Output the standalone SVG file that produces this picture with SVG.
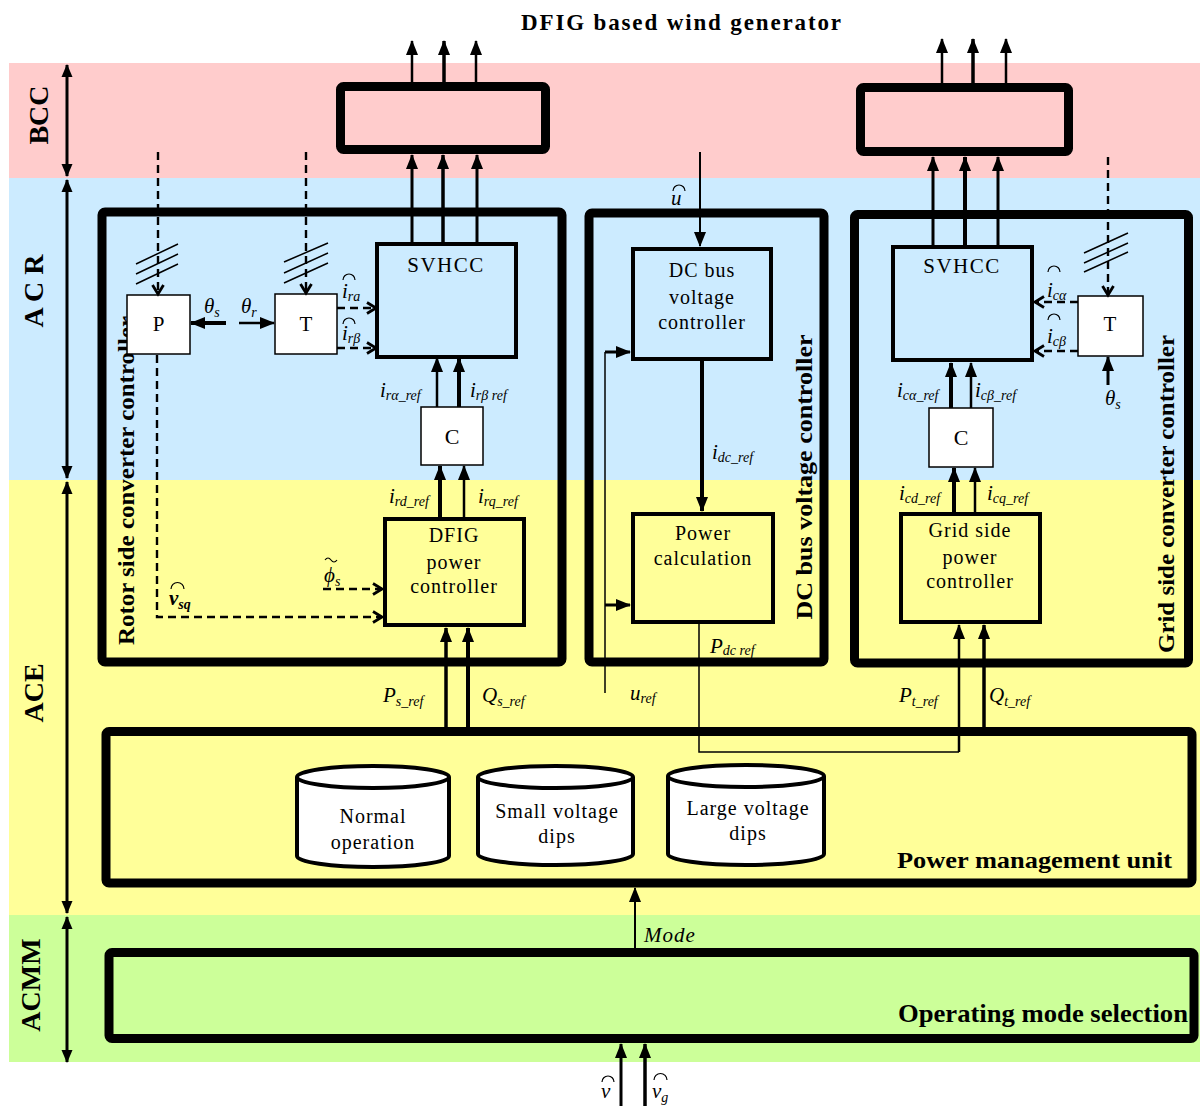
<svg xmlns="http://www.w3.org/2000/svg" width="1200" height="1106" viewBox="0 0 1200 1106">
<style>
.thick{fill:none;stroke:#000;stroke-width:9;stroke-linejoin:round}
.blk{fill:none;stroke:#000;stroke-width:4}
.wbox{fill:#fff;stroke:#000;stroke-width:1.5}
.ln{fill:none;stroke:#000}
.dash{fill:none;stroke:#000;stroke-width:2.4;stroke-dasharray:8 5}
.arc{fill:none;stroke:#000;stroke-width:1.2}
text{font-family:"Liberation Serif","Times New Roman",serif;fill:#000}
.c{text-anchor:middle}
.box{font-size:20px;letter-spacing:1px}
.it{font-style:italic;font-size:21px}
.sub{font-size:14px}
.b{font-weight:bold}
.cyl{fill:#fff;stroke:#000;stroke-width:4;stroke-linejoin:round}
</style>
<defs>
<marker id="ah" markerUnits="userSpaceOnUse" markerWidth="16" markerHeight="14" refX="14" refY="7" orient="auto-start-reverse" viewBox="0 0 16 14"><path d="M0,1 L15,7 L0,13 z" fill="#000"/></marker>
<marker id="ahs" markerUnits="userSpaceOnUse" markerWidth="14" markerHeight="12" refX="12" refY="6" orient="auto-start-reverse" viewBox="0 0 14 12"><path d="M0,0.5 L13,6 L0,11.5 z" fill="#000"/></marker>
<marker id="chev" markerUnits="userSpaceOnUse" markerWidth="14" markerHeight="14" refX="11" refY="7" orient="auto" viewBox="0 0 14 14"><path d="M2,1.5 L11,7 L2,12.5" fill="none" stroke="#000" stroke-width="2.8"/></marker>
</defs>

<g id="bands">
<rect x="9" y="63" width="1191" height="115" fill="#FFCCCC"/>
<rect x="9" y="178" width="1191" height="302" fill="#CCEBFF"/>
<rect x="9" y="480" width="1191" height="435" fill="#FFFF99"/>
<rect x="9" y="915" width="1191" height="147" fill="#CCFF99"/>
</g>

<text x="521" y="30" class="b" font-size="23" textLength="320" lengthAdjust="spacing">DFIG based wind generator</text>

<g id="layer-labels">
<text transform="translate(48,115) rotate(-90)" class="b c" font-size="28">BCC</text>
<text transform="translate(43,291) rotate(-90)" class="b c" font-size="28">A C R</text>
<text transform="translate(43,693) rotate(-90)" class="b c" font-size="28">ACE</text>
<text transform="translate(40,985) rotate(-90)" class="b c" font-size="28">ACMM</text>
</g>

<g id="bcc-left"><rect x="340.5" y="86.5" width="205" height="63" rx="3" class="thick"/></g>
<g id="bcc-right"><rect x="860.5" y="87.5" width="208" height="64" rx="3" class="thick"/></g>

<g id="rotor-side-controller">
<rect x="102" y="212" width="460" height="450" rx="3" class="thick"/>
<text transform="translate(134,480.5) rotate(-90)" class="b c" font-size="24" textLength="329" lengthAdjust="spacingAndGlyphs">Rotor side converter controller</text>
</g>
<g id="rotor-P"><rect x="127" y="295" width="63" height="59" class="wbox"/><text x="158.5" y="331" class="c" font-size="21">P</text></g>
<g id="rotor-T"><rect x="275" y="294" width="62" height="60" class="wbox"/><text x="306" y="331" class="c" font-size="21">T</text></g>
<g id="rotor-SVHCC"><rect x="377" y="244" width="139" height="113" class="blk"/><text x="446" y="272" class="c" font-size="21" letter-spacing="1.5">SVHCC</text></g>
<g id="rotor-C"><rect x="421" y="407" width="62" height="58" class="wbox"/><text x="452" y="444" class="c" font-size="22">C</text></g>
<g id="dfig-power-controller"><rect x="385" y="519" width="139" height="106" class="blk"/>
<text x="454" y="542" class="c box">DFIG</text><text x="454" y="569" class="c box">power</text><text x="454" y="593" class="c box">controller</text></g>

<g id="dc-bus-controller">
<rect x="589" y="213" width="235" height="449" rx="3" class="thick"/>
<text transform="translate(812,477) rotate(-90)" class="b c" font-size="24" textLength="285" lengthAdjust="spacingAndGlyphs">DC bus voltage  controller</text>
</g>
<g id="dc-bus-voltage-controller"><rect x="633" y="249" width="138" height="110" class="blk"/>
<text x="702" y="277" class="c box">DC bus</text><text x="702" y="304" class="c box">voltage</text><text x="702" y="329" class="c box">controller</text></g>
<g id="power-calculation"><rect x="633" y="514" width="140" height="108" class="blk"/>
<text x="703" y="540" class="c box">Power</text><text x="703" y="565" class="c box">calculation</text></g>

<g id="grid-side-controller">
<rect x="854.5" y="214.5" width="334" height="448.5" rx="3" class="thick"/>
<text transform="translate(1174,494) rotate(-90)" class="b c" font-size="24" textLength="318" lengthAdjust="spacingAndGlyphs">Grid side converter controller</text>
</g>
<g id="grid-SVHCC"><rect x="893" y="247" width="139" height="113" class="blk"/><text x="962" y="273" class="c" font-size="21" letter-spacing="1.5">SVHCC</text></g>
<g id="grid-T"><rect x="1078" y="296" width="65" height="60" class="wbox"/><text x="1110" y="331" class="c" font-size="21">T</text></g>
<g id="grid-C"><rect x="929" y="408" width="64" height="59" class="wbox"/><text x="961" y="445" class="c" font-size="22">C</text></g>
<g id="grid-power-controller"><rect x="901" y="514" width="139" height="108" class="blk"/>
<text x="970" y="537" class="c box">Grid side</text><text x="970" y="564" class="c box">power</text><text x="970" y="588" class="c box">controller</text></g>

<g id="power-management-unit">
<rect x="106" y="731.5" width="1086" height="151.5" rx="3" class="thick"/>
<text x="897" y="868" class="b" font-size="24" textLength="275" lengthAdjust="spacingAndGlyphs">Power management unit</text>
</g>
<g id="normal-operation">
<path class="cyl" d="M297,777 A76,11 0 0 1 449,777 L449,856 A76,11 0 0 1 297,856 Z"/>
<path class="cyl" fill="none" d="M297,777 A76,11 0 0 0 449,777"/>
<text x="373" y="823" class="c box">Normal</text><text x="373" y="849" class="c box">operation</text>
</g>
<g id="small-voltage-dips">
<path class="cyl" d="M478,777 A77.5,11 0 0 1 633,777 L633,854 A77.5,11 0 0 1 478,854 Z"/>
<path class="cyl" fill="none" d="M478,777 A77.5,11 0 0 0 633,777"/>
<text x="557" y="818" class="c box">Small voltage</text><text x="557" y="843" class="c box">dips</text>
</g>
<g id="large-voltage-dips">
<path class="cyl" d="M668,776 A78,11 0 0 1 824,776 L824,854 A78,11 0 0 1 668,854 Z"/>
<path class="cyl" fill="none" d="M668,776 A78,11 0 0 0 824,776"/>
<text x="748" y="815" class="c box">Large voltage</text><text x="748" y="840" class="c box">dips</text>
</g>

<g id="operating-mode-selection">
<rect x="109" y="952.5" width="1085" height="86" rx="3" class="thick"/>
<text x="898" y="1022" class="b" font-size="25" textLength="290" lengthAdjust="spacingAndGlyphs">Operating mode selection</text>
</g>

<g id="connectors">
<line x1="67" y1="65" x2="67" y2="176" class="ln" stroke-width="3" marker-start="url(#ahs)" marker-end="url(#ahs)"/>
<line x1="67" y1="180" x2="67" y2="478" class="ln" stroke-width="3" marker-start="url(#ahs)" marker-end="url(#ahs)"/>
<line x1="67" y1="482" x2="67" y2="913" class="ln" stroke-width="3" marker-start="url(#ahs)" marker-end="url(#ahs)"/>
<line x1="67" y1="917" x2="67" y2="1062" class="ln" stroke-width="3" marker-start="url(#ahs)" marker-end="url(#ahs)"/>

<line x1="412" y1="83" x2="412" y2="41" class="ln" stroke-width="2.5" marker-end="url(#ah)"/>
<line x1="444" y1="83" x2="444" y2="41" class="ln" stroke-width="3.5" marker-end="url(#ah)"/>
<line x1="476" y1="83" x2="476" y2="41" class="ln" stroke-width="2.5" marker-end="url(#ah)"/>
<line x1="942" y1="84" x2="942" y2="39" class="ln" stroke-width="2.5" marker-end="url(#ah)"/>
<line x1="973" y1="84" x2="973" y2="39" class="ln" stroke-width="3.5" marker-end="url(#ah)"/>
<line x1="1006" y1="84" x2="1006" y2="39" class="ln" stroke-width="2.5" marker-end="url(#ah)"/>

<line x1="412" y1="242" x2="412" y2="155" class="ln" stroke-width="3" marker-end="url(#ah)"/>
<line x1="443" y1="242" x2="443" y2="155" class="ln" stroke-width="3.5" marker-end="url(#ah)"/>
<line x1="477" y1="242" x2="477" y2="155" class="ln" stroke-width="3" marker-end="url(#ah)"/>
<line x1="933" y1="245" x2="933" y2="157" class="ln" stroke-width="3" marker-end="url(#ah)"/>
<line x1="965" y1="245" x2="965" y2="157" class="ln" stroke-width="4" marker-end="url(#ah)"/>
<line x1="998" y1="245" x2="998" y2="157" class="ln" stroke-width="3" marker-end="url(#ah)"/>

<line x1="158" y1="152" x2="158" y2="294" class="dash" marker-end="url(#chev)"/>
<line x1="306" y1="152" x2="306" y2="293" class="dash" marker-end="url(#chev)"/>
<path d="M136,264 L178,244 M136,274 L178,254 M136,284 L178,264" class="ln" stroke-width="1.5"/>
<path d="M284,262 L328,243 M284,273 L328,253 M284,283 L328,263" class="ln" stroke-width="1.5"/>
<line x1="226" y1="323" x2="191" y2="323" class="ln" stroke-width="4" marker-end="url(#ah)"/>
<line x1="239" y1="323" x2="274" y2="323" class="ln" stroke-width="2.5" marker-end="url(#ah)"/>
<line x1="337" y1="308" x2="376" y2="308" class="dash" stroke-width="2.8" marker-end="url(#chev)"/>
<line x1="337" y1="348" x2="376" y2="348" class="dash" stroke-width="2.8" marker-end="url(#chev)"/>
<line x1="437" y1="407" x2="437" y2="358" class="ln" stroke-width="2.5" marker-end="url(#ah)"/>
<line x1="459" y1="407" x2="459" y2="358" class="ln" stroke-width="4" marker-end="url(#ah)"/>
<line x1="440" y1="517" x2="440" y2="466" class="ln" stroke-width="4" marker-end="url(#ah)"/>
<line x1="464" y1="517" x2="464" y2="466" class="ln" stroke-width="2.5" marker-end="url(#ah)"/>
<line x1="446" y1="728" x2="446" y2="628" class="ln" stroke-width="3.5" marker-end="url(#ah)"/>
<line x1="468" y1="728" x2="468" y2="628" class="ln" stroke-width="4" marker-end="url(#ah)"/>
<line x1="323" y1="589" x2="382" y2="589" class="dash" stroke-width="2.8" marker-end="url(#chev)"/>
<path d="M157,355 L157,617 L382,617" class="dash" marker-end="url(#chev)"/>

<line x1="700" y1="152" x2="700" y2="246" class="ln" stroke-width="2" marker-end="url(#ah)"/>
<line x1="702" y1="361" x2="702" y2="511" class="ln" stroke-width="4" marker-end="url(#ah)"/>
<path d="M605,693 L605,352" class="ln" stroke-width="1.5"/>
<line x1="605" y1="352" x2="630" y2="352" class="ln" stroke-width="3" marker-end="url(#ah)"/>
<line x1="605" y1="605" x2="630" y2="605" class="ln" stroke-width="3" marker-end="url(#ah)"/>
<path d="M699,624 L699,752 L959,752" class="ln" stroke-width="1.5"/>
<line x1="959" y1="752" x2="959" y2="625" class="ln" stroke-width="2.5" marker-end="url(#ah)"/>
<line x1="984" y1="728" x2="984" y2="625" class="ln" stroke-width="3.5" marker-end="url(#ah)"/>

<line x1="1108" y1="157" x2="1108" y2="295" class="dash" marker-end="url(#chev)"/>
<path d="M1084,253 L1128,233 M1084,263 L1128,243 M1084,272 L1128,252" class="ln" stroke-width="1.5"/>
<line x1="1108" y1="385" x2="1108" y2="357" class="ln" stroke-width="3" marker-end="url(#ah)"/>
<line x1="1078" y1="302" x2="1035" y2="302" class="dash" stroke-width="2.8" marker-end="url(#chev)"/>
<line x1="1078" y1="351" x2="1035" y2="351" class="dash" stroke-width="2.8" marker-end="url(#chev)"/>
<line x1="951" y1="408" x2="951" y2="363" class="ln" stroke-width="4" marker-end="url(#ah)"/>
<line x1="971" y1="408" x2="971" y2="363" class="ln" stroke-width="2.5" marker-end="url(#ah)"/>
<line x1="954" y1="512" x2="954" y2="468" class="ln" stroke-width="4" marker-end="url(#ah)"/>
<line x1="975" y1="512" x2="975" y2="468" class="ln" stroke-width="2.5" marker-end="url(#ah)"/>

<line x1="635" y1="948" x2="635" y2="888" class="ln" stroke-width="2" marker-end="url(#ah)"/>
<line x1="621" y1="1106" x2="621" y2="1044" class="ln" stroke-width="3" marker-end="url(#ah)"/>
<line x1="645" y1="1106" x2="645" y2="1044" class="ln" stroke-width="3.5" marker-end="url(#ah)"/>
</g>

<g id="labels">
<text x="204" y="313" class="it">θ<tspan class="sub" dy="4">s</tspan></text>
<text x="241" y="313" class="it">θ<tspan class="sub" dy="4">r</tspan></text>
<path class="arc" d="M343,280 a6,6 0 0 1 12,0"/>
<text x="342" y="298" class="it">i<tspan class="sub" dy="3">ra</tspan></text>
<path class="arc" d="M343,324 a6,6 0 0 1 12,0"/>
<text x="342" y="340" class="it">i<tspan class="sub" dy="3">rβ</tspan></text>
<text x="380" y="397" class="it">i<tspan class="sub" dy="3">rα_ref</tspan></text>
<text x="470" y="397" class="it">i<tspan class="sub" dy="3">rβ ref</tspan></text>
<text x="389" y="503" class="it">i<tspan class="sub" dy="3">rd_ref</tspan></text>
<text x="478" y="503" class="it">i<tspan class="sub" dy="3">rq_ref</tspan></text>
<path class="arc" d="M325,560 q3,-4 6,0 t6,0"/>
<text x="324" y="582" class="it">ϕ<tspan class="sub" dy="4">s</tspan></text>
<path class="arc" d="M171,589 a6.5,6.5 0 0 1 13,0"/>
<text x="169" y="605" class="it b">v<tspan class="sub" dy="4">sq</tspan></text>
<text x="383" y="702" class="it">P<tspan class="sub" dy="4">s_ref</tspan></text>
<text x="482" y="702" class="it">Q<tspan class="sub" dy="4">s_ref</tspan></text>

<path class="arc" d="M673,191 a6,6 0 0 1 12,0"/>
<text x="671" y="205" class="it">u</text>
<text x="712" y="459" class="it">i<tspan class="sub" dy="3">dc_ref</tspan></text>
<text x="710" y="653" class="it">P<tspan class="sub" dy="2">dc ref</tspan></text>
<text x="630" y="700" class="it">u<tspan class="sub" dy="3">ref</tspan></text>

<path class="arc" d="M1048,272 a6,6 0 0 1 12,0"/>
<text x="1047" y="297" class="it">i<tspan class="sub" dy="3">cα</tspan></text>
<path class="arc" d="M1048,320 a6,6 0 0 1 12,0"/>
<text x="1047" y="343" class="it">i<tspan class="sub" dy="3">cβ</tspan></text>
<text x="1105" y="405" class="it">θ<tspan class="sub" dy="4">s</tspan></text>
<text x="897" y="397" class="it">i<tspan class="sub" dy="3">cα_ref</tspan></text>
<text x="975" y="397" class="it">i<tspan class="sub" dy="3">cβ_ref</tspan></text>
<text x="899" y="500" class="it">i<tspan class="sub" dy="3">cd_ref</tspan></text>
<text x="987" y="500" class="it">i<tspan class="sub" dy="3">cq_ref</tspan></text>
<text x="899" y="702" class="it">P<tspan class="sub" dy="4">t_ref</tspan></text>
<text x="989" y="702" class="it">Q<tspan class="sub" dy="4">t_ref</tspan></text>

<text x="644" y="942" class="it" letter-spacing="1">Mode</text>
<path class="arc" d="M602,1082 a6,6 0 0 1 12,0"/>
<text x="601" y="1098" class="it">v</text>
<path class="arc" d="M654,1080 a6.5,6.5 0 0 1 13,0"/>
<text x="652" y="1098" class="it">v<tspan class="sub" dy="4">g</tspan></text>
</g>
</svg>
